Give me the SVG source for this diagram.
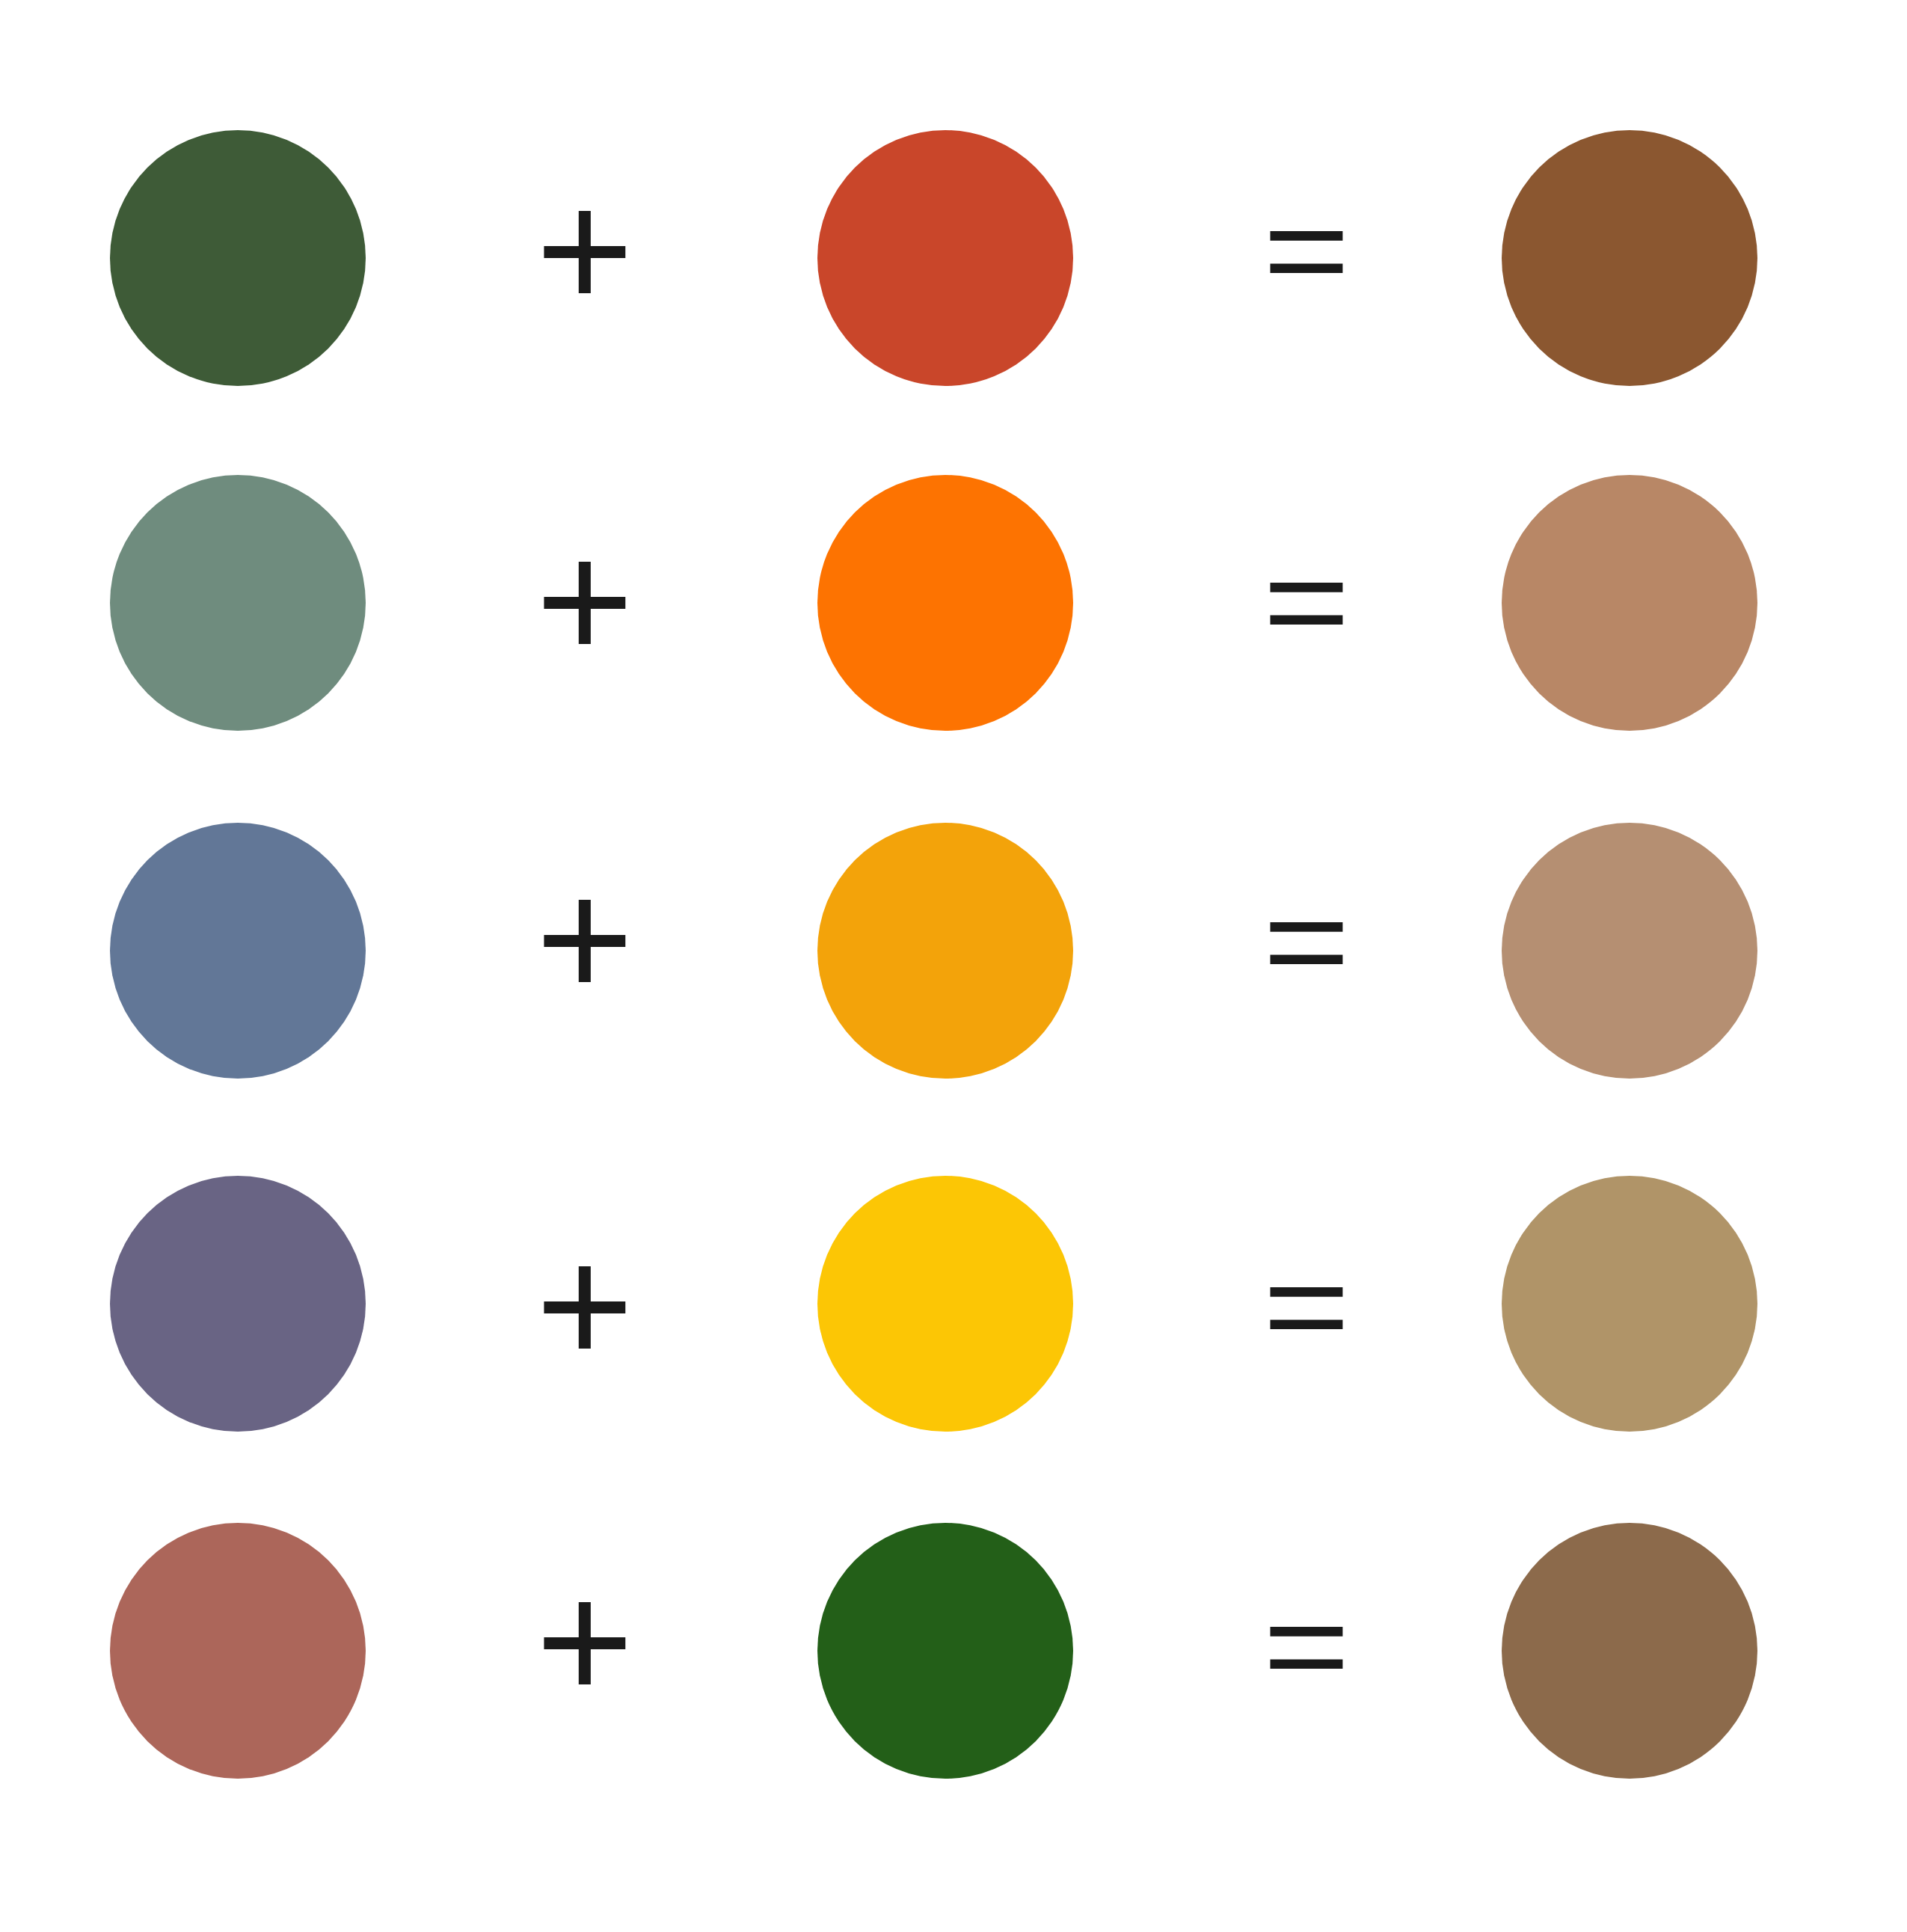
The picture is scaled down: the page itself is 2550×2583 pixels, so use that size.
<svg xmlns="http://www.w3.org/2000/svg" width="2550" height="2583" viewBox="0 0 2550 2583">
<style>
.op{font-family:"Liberation Sans",Arial,sans-serif;fill:#1a1a1a;text-anchor:middle}
.plus{font-size:224px}
.eq{font-size:190px}
</style>
<rect width="2550" height="2583" fill="#ffffff"/>
<g id="row1">
<circle id="r1a" cx="318" cy="345" r="171" fill="#3e5b37"/>
<text class="op plus" x="782" y="412">+</text>
<circle id="r1b" cx="1264" cy="345" r="171" fill="#c9462a"/>
<text class="op eq" transform="translate(1747,335) scale(1.05,0.92)" x="0" y="64.5">=</text>
<circle id="r1c" cx="2179" cy="345" r="171" fill="#8b5730"/>
</g>
<g id="row2">
<circle id="r2a" cx="318" cy="806" r="171" fill="#6f8c7e"/>
<text class="op plus" x="782" y="881">+</text>
<circle id="r2b" cx="1264" cy="806" r="171" fill="#fd7301"/>
<text class="op eq" transform="translate(1747,804.5) scale(1.05,0.92)" x="0" y="64.5">=</text>
<circle id="r2c" cx="2179" cy="806" r="171" fill="#b88766"/>
</g>
<g id="row3">
<circle id="r3a" cx="318" cy="1271" r="171" fill="#627797"/>
<text class="op plus" x="782" y="1333">+</text>
<circle id="r3b" cx="1264" cy="1271" r="171" fill="#f3a30a"/>
<text class="op eq" transform="translate(1747,1259) scale(1.05,0.92)" x="0" y="64.5">=</text>
<circle id="r3c" cx="2179" cy="1271" r="171" fill="#b58f72"/>
</g>
<g id="row4">
<circle id="r4a" cx="318" cy="1743" r="171" fill="#696484"/>
<text class="op plus" x="782" y="1823">+</text>
<circle id="r4b" cx="1264" cy="1743" r="171" fill="#fcc605"/>
<text class="op eq" transform="translate(1747,1747) scale(1.05,0.92)" x="0" y="64.5">=</text>
<circle id="r4c" cx="2179" cy="1743" r="171" fill="#b09468"/>
</g>
<g id="row5">
<circle id="r5a" cx="318" cy="2207" r="171" fill="#ac665a"/>
<text class="op plus" x="782" y="2272">+</text>
<circle id="r5b" cx="1264" cy="2207" r="171" fill="#235f18"/>
<text class="op eq" transform="translate(1747,2201) scale(1.05,0.92)" x="0" y="64.5">=</text>
<circle id="r5c" cx="2179" cy="2207" r="171" fill="#8c6a4b"/>
</g>
<g id="connectors"/>
</svg>
